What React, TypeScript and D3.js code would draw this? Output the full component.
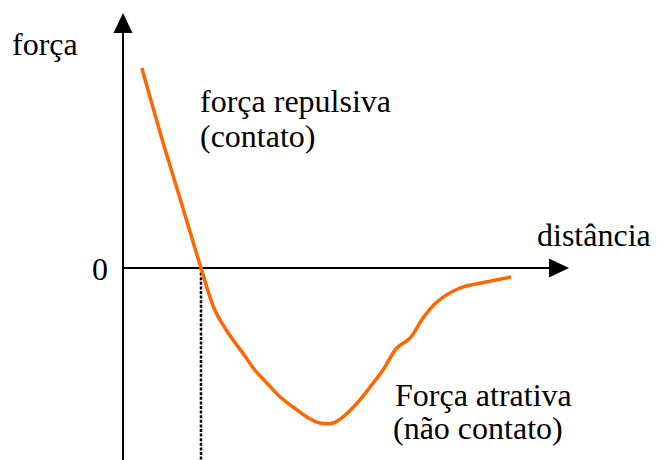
import React from "react";
import * as d3 from "d3";

// Force vs. distance curve (arbitrary units)
const distance = [0.4, 0.88, 1.33, 1.73, 2.04, 2.27, 2.45, 2.67, 2.94, 3.21, 3.51, 3.8, 4.11, 4.4, 4.7, 4.92, 5.24, 5.53, 5.82, 6.13, 6.43, 6.72, 7.03, 7.55, 8.13, 8.7];
const force = [4.0, 2.5, 1.18, 0, -0.84, -1.2, -1.44, -1.7, -2.04, -2.3, -2.58, -2.78, -2.98, -3.1, -3.1, -2.98, -2.7, -2.38, -2.04, -1.6, -1.4, -1.0, -0.68, -0.4, -0.28, -0.18];

// Equilibrium distance where the force changes sign
const equilibrium = 1.73;

const yLabel = "força";
const xLabel = "distância";
const zeroLabel = "0";
const repulsiveLabel = ["força repulsiva", "(contato)"];
const attractiveLabel = ["Força atrativa", "(não contato)"];

const W = 659;
const H = 460;

export default function App() {
  const x = d3.scaleLinear().domain([0, 10]).range([124, 569]);
  const y = d3.scaleLinear().domain([-3.84, 5.1]).range([460, 13]);

  const pts = distance.map((d, i) => [d, force[i]] as [number, number]);
  const line = d3
    .line<[number, number]>()
    .x((d) => x(d[0]))
    .y((d) => y(d[1]))
    .curve(d3.curveCatmullRom.alpha(0.5));

  const x0 = x(0);
  const y0 = y(0);
  const yTop = y(5.1);
  const yBottom = y(-3.84);
  const xRight = x(10);
  const arrowLen = 20;
  const arrowHalf = 9.5;

  const font = '"Liberation Serif", "Times New Roman", Times, serif';
  const fs = 32;

  return (
    <svg
      width={W}
      height={H}
      style={{ position: "absolute", left: 0, top: 0, background: "#fff" }}
    >
      {/* vertical axis */}
      <line x1={x0 - 1} x2={x0 - 1} y1={yBottom} y2={yTop + arrowLen} stroke="#000" strokeWidth={2} />
      <path
        d={`M${x0 - 1},${yTop} L${x0 - 1 - arrowHalf},${yTop + arrowLen} L${x0 - 1 + arrowHalf},${yTop + arrowLen} Z`}
        fill="#000"
      />
      {/* horizontal axis */}
      <line x1={x0 - 1} x2={xRight - arrowLen} y1={y0} y2={y0} stroke="#000" strokeWidth={2} />
      <path
        d={`M${xRight},${y0} L${xRight - arrowLen},${y0 - arrowHalf} L${xRight - arrowLen},${y0 + arrowHalf} Z`}
        fill="#000"
      />
      {/* equilibrium marker */}
      <line
        x1={x(equilibrium)}
        x2={x(equilibrium)}
        y1={y0}
        y2={yBottom}
        stroke="#000"
        strokeWidth={2.5}
        strokeDasharray="3,1.6"
      />
      {/* force curve */}
      <path d={line(pts) ?? ""} fill="none" stroke="#FF6600" strokeWidth={3.5} strokeLinejoin="round" strokeLinecap="butt" />

      <g style={{ fontFamily: font, fontSize: fs }} fill="#000">
        <text x={12} y={55}>{yLabel}</text>
        <text x={537} y={246}>{xLabel}</text>
        <text x={x0 - 24} y={y0 + 12} textAnchor="middle">{zeroLabel}</text>
        <text x={200} y={112}>{repulsiveLabel[0]}</text>
        <text x={200} y={147}>{repulsiveLabel[1]}</text>
        <text x={395} y={406}>{attractiveLabel[0]}</text>
        <text x={393} y={439}>{attractiveLabel[1]}</text>
      </g>
    </svg>
  );
}
